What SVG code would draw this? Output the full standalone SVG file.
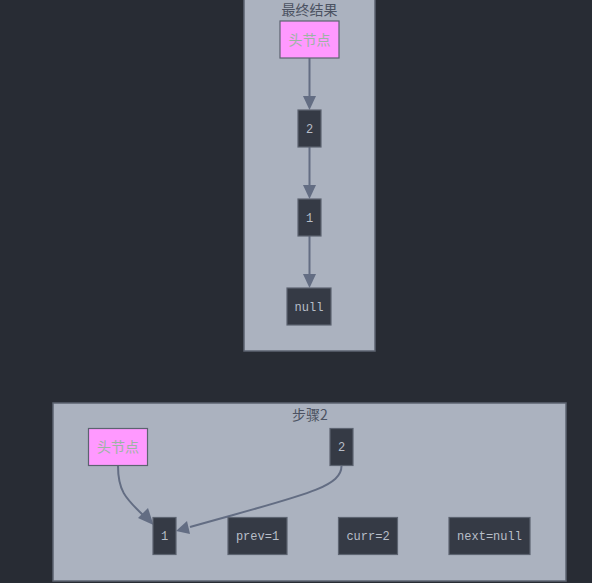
<svg xmlns="http://www.w3.org/2000/svg" width="592" height="583" viewBox="0 0 592 583">
<style>
.bg{fill:#282c34}
.cl{fill:#abb2bf;stroke:#5c6370;stroke-width:1.5}
.ct{font-family:"Noto Sans CJK SC","Liberation Sans",sans-serif;font-size:14px;fill:#4b5262;text-anchor:middle}
.nd{fill:#353a45;stroke:#5c6370;stroke-width:1.2}
.hd{fill:#ff99ff;stroke:#5c6370;stroke-width:1.2}
.nt{font-family:"Liberation Mono",monospace;font-size:12px;fill:#b8bec8;text-anchor:middle}
.ht{font-family:"Noto Sans CJK SC","Liberation Sans",sans-serif;font-size:14px;fill:#9cb4a4;text-anchor:middle}
.ed{fill:none;stroke:#636d83;stroke-width:2}
.ar{fill:#636d83}
</style>
<rect class="bg" x="0" y="0" width="592" height="583"/>
<g id="cluster_final">
<rect class="cl" x="244" y="-5" width="131" height="356"/>
<text class="ct" x="309.5" y="14.5" font-size="13">最终结果</text>
</g>
<g id="cluster_step2">
<rect class="cl" x="53" y="403" width="513" height="178"/>
<text class="ct" x="310" y="420">步骤2</text>
</g>
<g id="edges">
<path class="ed" d="M309.5,58 L309.5,97"/>
<path class="ar" d="M303,96 L316,96 L309.5,110 z"/>
<path class="ed" d="M309.5,147 L309.5,185"/>
<path class="ar" d="M303,185 L316,185 L309.5,199 z"/>
<path class="ed" d="M309.5,236 L309.5,274"/>
<path class="ar" d="M303,274 L316,274 L309.5,288 z"/>
<path class="ed" d="M118,466 C118,490 125,498 143,515"/>
<path class="ar" d="M138,518 L148,508 L153.5,525 z"/>
<path class="ed" d="M341.5,466 C341.5,488 300,496 190,527"/>
<path class="ar" d="M187,521 L190,534 L176,531 z"/>
</g>
<g id="n_head_final">
<rect class="hd" x="280" y="21" width="59" height="37"/>
<text class="ht" x="309.5" y="44.5">头节点</text>
</g>
<g id="n_2_final">
<rect class="nd" x="298" y="110" width="23" height="37"/>
<text class="nt" x="309.5" y="132.5">2</text>
</g>
<g id="n_1_final">
<rect class="nd" x="298" y="199" width="23" height="37"/>
<text class="nt" x="309.5" y="221.5">1</text>
</g>
<g id="n_null_final">
<rect class="nd" x="287" y="288" width="44" height="37"/>
<text class="nt" x="309" y="310.5">null</text>
</g>
<g id="n_head_step2">
<rect class="hd" x="88.5" y="428.5" width="59" height="37"/>
<text class="ht" x="118" y="452">头节点</text>
</g>
<g id="n_2_step2">
<rect class="nd" x="330" y="428.5" width="23" height="37"/>
<text class="nt" x="341.5" y="451">2</text>
</g>
<g id="n_1_step2">
<rect class="nd" x="153" y="517.5" width="23" height="37"/>
<text class="nt" x="164.5" y="540">1</text>
</g>
<g id="n_prev">
<rect class="nd" x="228" y="517.5" width="59" height="37"/>
<text class="nt" x="257.5" y="540">prev=1</text>
</g>
<g id="n_curr">
<rect class="nd" x="338.5" y="517.5" width="59" height="37"/>
<text class="nt" x="368" y="540">curr=2</text>
</g>
<g id="n_next">
<rect class="nd" x="449" y="517.5" width="81" height="37"/>
<text class="nt" x="489.5" y="540">next=null</text>
</g>
</svg>
